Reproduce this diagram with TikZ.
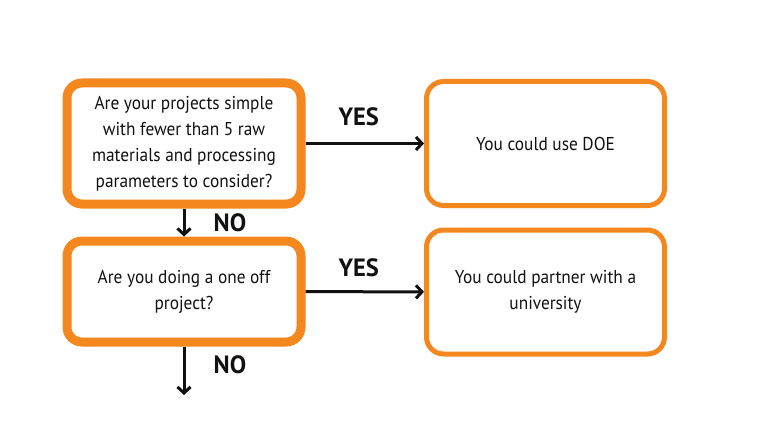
\documentclass[tikz,border=0pt]{standalone}
\usepackage{fontspec}
\setsansfont[FakeStretch=0.93,BoldFeatures={FakeStretch=0.98}]{PT Sans}
\usetikzlibrary{arrows.meta}
\definecolor{FlowOrange}{HTML}{F5871F}
\definecolor{InkBlack}{HTML}{111111}

\begin{document}
\begin{tikzpicture}[x=1pt,y=1pt,>={Straight Barb[length=6pt,width=13pt]},every node/.style={font=\sffamily,text=InkBlack},
question/.style={draw=FlowOrange,line width=9pt,rounded corners=15pt,minimum width=234pt,align=center,font=\sffamily\fontsize{18.6}{26}\selectfont},
answer/.style={draw=FlowOrange,line width=5pt,rounded corners=17pt,minimum width=238pt,minimum height=124pt,align=center,font=\sffamily\fontsize{18.6}{26}\selectfont},
flow/.style={->,line width=3pt,draw=InkBlack},lbl/.style={font=\sffamily\bfseries\fontsize{25}{25}\selectfont}]
\fill[white] (0,0) rectangle (760,440); \useasboundingbox (0,0) rectangle (760,440);
\node[question,minimum height=121pt] (simple) at (184,296.5){Are your projects simple\\with fewer than 5 raw\\materials and processing\\parameters to consider?};
\node[question,minimum height=101pt] (oneoff) at (184,148.5){Are you doing a one off\\project?};
\node[answer] (doe) at (545.5,296.5){You could use DOE};
\node[answer] (uni) at (545.5,148){You could partner with a\\university};
\coordinate (onward) at (184,45);
\draw[flow] (simple) -- (doe) node[lbl,pos=.45,yshift=27pt]{YES}; \draw[flow] (oneoff) -- (uni) node[lbl,pos=.45,yshift=24pt]{YES};
\draw[flow] (simple) -- (oneoff) node[lbl,midway,xshift=46pt]{NO}; \draw[flow] (oneoff) -- (onward) node[lbl,midway,xshift=46pt,yshift=6pt]{NO};
\end{tikzpicture}
\end{document}
